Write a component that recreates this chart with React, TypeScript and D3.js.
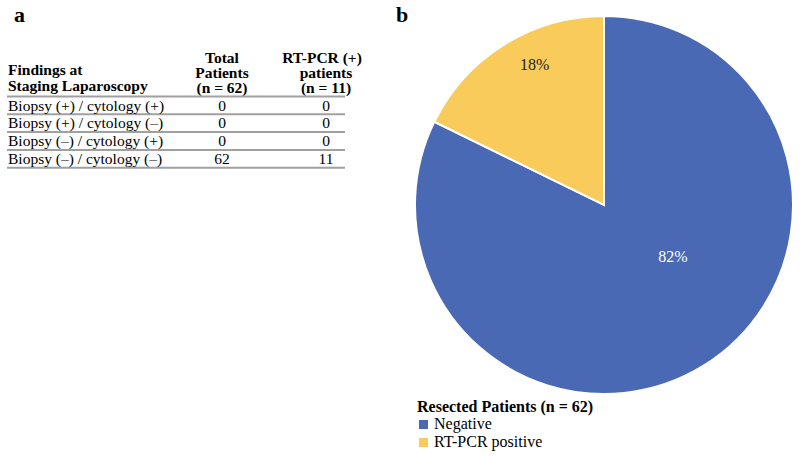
import React from "react";
import * as d3 from "d3";

const headerFindings = ["Findings at", "Staging Laparoscopy"];
const headerTotal = ["Total", "Patients", "(n = 62)"];
const headerPcr = ["RT-PCR (+)", "patients", "(n = 11)"];
const rowLabels = [
  "Biopsy (+) / cytology (+)",
  "Biopsy (+) / cytology (\u2013)",
  "Biopsy (\u2013) / cytology (+)",
  "Biopsy (\u2013) / cytology (\u2013)",
];
const totalPatients = [0, 0, 0, 62];
const pcrPatients = [0, 0, 0, 11];

const pieCategories = ["Negative", "RT-PCR positive"];
const pieValues = [51, 11];
const pieLabels = ["82%", "18%"];
const pieColors = ["#4A69B4", "#F9CB5B"];
const legendTitle = "Resected Patients (n = 62)";

const FONT = "Liberation Serif";

export default function App() {
  const W = 800, H = 457;
  const cx = 604, cy = 205, r = 189;
  const pie = d3.pie<number>().sort(null).value((d) => d)(pieValues);
  const arc = d3.arc<d3.PieArcDatum<number>>().innerRadius(0).outerRadius(r);
  // label placement (radius fraction, angular shift in radians) per slice
  const labelPlace = [
    { rf: 0.455, shift: -0.37 },
    { rf: 0.83, shift: 0.1 },
  ];

  const tableX0 = 7, tableX1 = 345;
  const colTotal = 222, colPcr = 326;
  const rowY = d3.scaleLinear().domain([0, 1]).range([96.5, 114.3]);

  return (
    <svg width={W} height={H} style={{ display: "block", position: "absolute", left: 0, top: 0, fontFamily: FONT }}>
      <rect width={W} height={H} fill="#fff" />
      <text x={14} y={22} fontSize={22} fontWeight="bold">a</text>
      <text x={396} y={22} fontSize={22} fontWeight="bold">b</text>

      {/* table header */}
      {headerFindings.map((t, i) => (
        <text key={t} x={8} y={75 + i * 15.5} fontSize={15.5} fontWeight="bold">{t}</text>
      ))}
      {headerTotal.map((t, i) => (
        <text key={t} x={colTotal} y={63 + i * 14.8} fontSize={15.5} fontWeight="bold" textAnchor="middle">{t}</text>
      ))}
      {headerPcr.map((t, i) => (
        <text key={t} x={i === 0 ? 322 : colPcr} y={63 + i * 14.8} fontSize={15.5} fontWeight="bold" textAnchor="middle">{t}</text>
      ))}

      {[0, 1, 2, 3, 4].map((i) => (
        <line key={i} x1={tableX0} x2={tableX1} y1={rowY(i)} y2={rowY(i)} stroke="#a0a0a0" strokeWidth={2} />
      ))}
      {rowLabels.map((t, i) => (
        <g key={t}>
          <text x={8} y={rowY(i) + 14} fontSize={15.5}>{t}</text>
          <text x={colTotal} y={rowY(i) + 14} fontSize={15.5} textAnchor="middle">{totalPatients[i]}</text>
          <text x={colPcr} y={rowY(i) + 14} fontSize={15.5} textAnchor="middle">{pcrPatients[i]}</text>
        </g>
      ))}

      {/* pie */}
      <g transform={`translate(${cx},${cy})`}>
        {pie.map((d, i) => (
          <path key={i} d={arc(d) || ""} fill={pieColors[i]} stroke="#fff" strokeWidth={2} />
        ))}
        {pie.map((d, i) => {
          const mid = (d.startAngle + d.endAngle) / 2 + labelPlace[i].shift;
          const [lx, ly] = d3.pointRadial(mid, r * labelPlace[i].rf);
          return (
            <text key={"l" + i} x={lx} y={ly} fontSize={16} textAnchor="middle" dominantBaseline="central" fill={i === 0 ? "#fff" : "#222"}>
              {pieLabels[i]}
            </text>
          );
        })}
      </g>

      {/* legend */}
      <text x={417} y={412} fontSize={16} fontWeight="bold">{legendTitle}</text>
      {pieCategories.map((c, i) => (
        <g key={c}>
          <rect x={419} y={420 + i * 18} width={9} height={9} fill={pieColors[i]} />
          <text x={434} y={429 + i * 18} fontSize={16}>{c}</text>
        </g>
      ))}
    </svg>
  );
}
